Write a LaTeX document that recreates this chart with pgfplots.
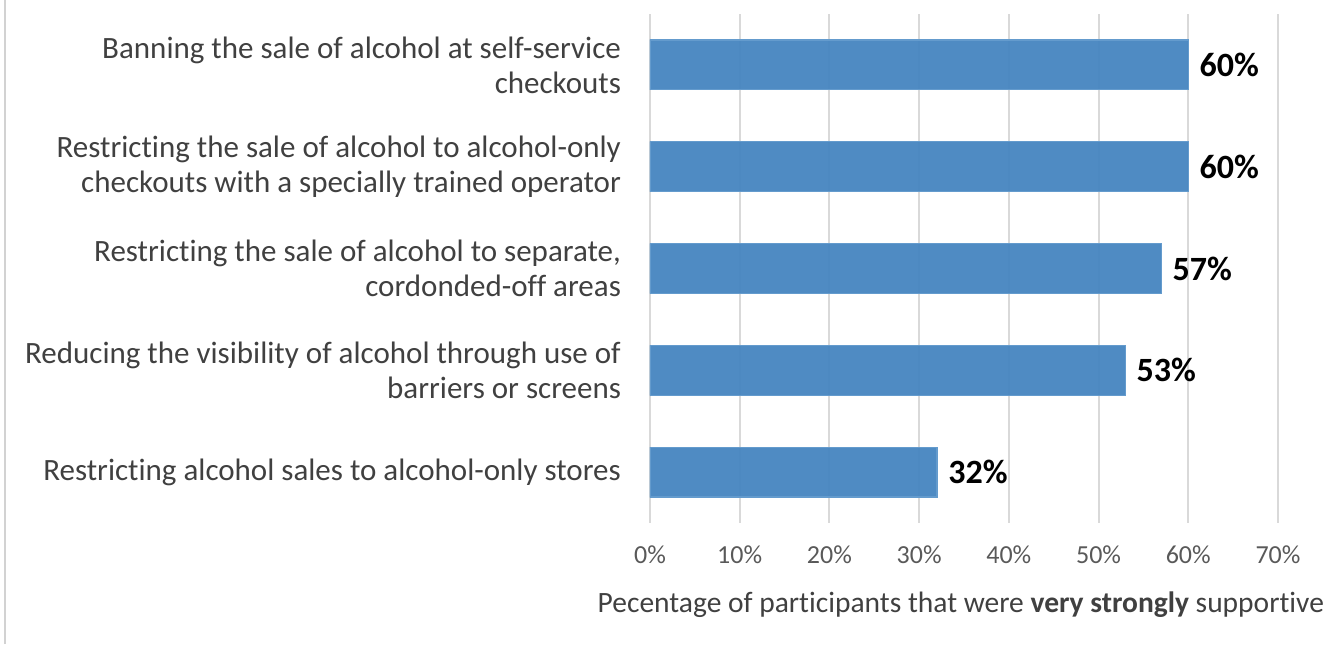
\documentclass[border=0pt]{standalone}
\usepackage{pgfplots}
\pgfplotsset{compat=1.18}
\usepackage{fontspec}
\setmainfont{Carlito}[Ligatures=NoCommon]
\definecolor{barblue}{RGB}{70,133,192}
\definecolor{baredge}{RGB}{100,155,205}
\definecolor{gridgray}{RGB}{217,217,217}
\definecolor{ticktext}{RGB}{89,89,89}
\definecolor{labtext}{RGB}{64,64,64}
\begin{document}
\begin{tikzpicture}
\path[use as bounding box] (-325pt,-60.5pt) rectangle (338.5pt,261.5pt);
\draw[gray!35, line width=0.8pt] (-322.5pt,-60.5pt) -- (-322.5pt,261.5pt);
\begin{axis}[
  at={(0,0)}, anchor=south west,
  scale only axis,
  width=314pt, height=254.5pt,
  xbar, bar width=0.49,
  xmin=0, xmax=70,
  ymin=-0.5, ymax=4.5,
  y dir=reverse,
  axis line style={draw=none},
  major tick length=0pt,
  xtick={0,10,...,70},
  xmajorgrids,
  grid style={gridgray, line width=1pt},
  ytick={0,1,2,3,4},
  yticklabels={
    {Banning the sale of alcohol at self-service\\checkouts},
    {Restricting the sale of alcohol to alcohol-only\\checkouts with a specially trained operator},
    {Restricting the sale of alcohol to separate,\\cordonded-off areas},
    {Reducing the visibility of alcohol through use of\\barriers or screens},
    {Restricting alcohol sales to alcohol-only stores}},
  yticklabel style={align=right, anchor=east, xshift=-11pt, text=labtext,
    font=\fontsize{15.5}{17.5}\selectfont},
  xticklabel={\pgfmathprintnumber{\tick}\%},
  xticklabel style={anchor=center, yshift=-16pt, text=ticktext,
    font=\fontsize{13}{15}\selectfont},
  /pgf/number format/assume math mode=true,
  xlabel={Pecentage of participants that were \textbf{very strongly} supportive},
  xlabel style={at={(axis description cs:0.495,0)}, anchor=center, yshift=-41pt,
    text=labtext, font=\fontsize{14.75}{16}\selectfont},
  nodes near coords={\pgfmathprintnumber{\pgfplotspointmeta}\%},
  nodes near coords style={anchor=west, xshift=2pt, font=\fontsize{17}{19}\selectfont\bfseries, text=black},
]
\addplot[fill=barblue, draw=baredge, line width=0.6pt, fill opacity=0.95, text opacity=1]
  coordinates {(60,0) (60,1) (57,2) (53,3) (32,4)};
\end{axis}
\end{tikzpicture}
\end{document}
